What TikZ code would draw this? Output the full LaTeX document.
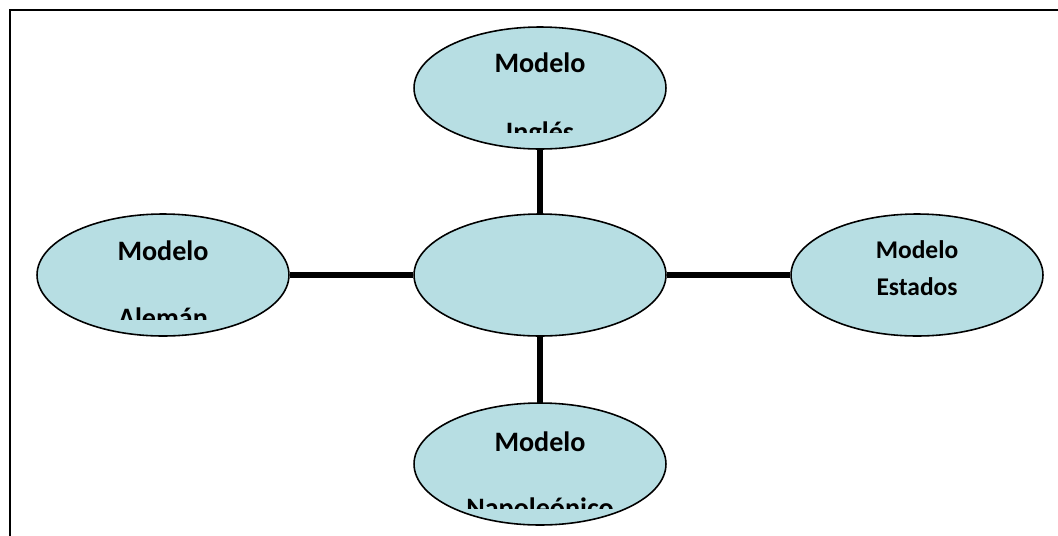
\documentclass[tikz,border=0pt]{standalone}
\usepackage{fontspec}
\setmainfont{Carlito}
\usepackage{tikz}
\usetikzlibrary{positioning,shapes,calc}
\usepackage{xcolor}
\definecolor{modelfill}{RGB}{183,222,227}

\begin{document}
\begin{tikzpicture}[
    x = 0.02cm, y = -0.02cm,
    model/.style={ellipse, draw, line width=0.9pt, fill=modelfill, minimum width=5.04cm, minimum height=2.44cm, inner sep=0pt},
    word/.style={font=\bfseries\fontsize{16}{19}\selectfont, anchor=base, inner sep=0pt},
    small word/.style={font=\bfseries\fontsize{14.5}{17}\selectfont, anchor=base, inner sep=0pt},
    link/.style={line width=3.3pt}
]
    \useasboundingbox (0,0) rectangle (1058,535);
    \draw[line width=1.3pt] (1060,10) -- (10,10) -- (10,537);

    \node[model] (centro) at (540,275) {};
    \node[model] (ingles) at (540,88) {};
    \node[model] (aleman) at (163,275) {};
    \node[model] (estados) at (917,275) {};
    \node[model] (napoleon) at (540,464) {};

    \draw[link] (centro) -- (ingles);
    \draw[link] (centro) -- (aleman);
    \draw[link] (centro) -- (estados);
    \draw[link] (centro) -- (napoleon);

    % texts cut off by their box
    \begin{scope}
        \clip (ingles.north west) rectangle ($(ingles.east)+(0,44)$);
        \node[word] (ingles a) at ($(ingles.center)+(0,-16)$) {Modelo};
        \node[word] (ingles b) at ($(ingles.center)+(0,53)$) {Inglés};
    \end{scope}
    \begin{scope}
        \clip (aleman.north west) rectangle ($(aleman.east)+(0,44)$);
        \node[word] (aleman a) at ($(aleman.center)+(0,-15)$) {Modelo};
        \node[word] (aleman b) at ($(aleman.center)+(0,52)$) {Alemán};
    \end{scope}
    \begin{scope}
        \clip (napoleon.north west) rectangle ($(napoleon.east)+(0,44)$);
        \node[word] (napoleon a) at ($(napoleon.center)+(0,-13)$) {Modelo};
        \node[word] (napoleon b) at ($(napoleon.center)+(0,53)$) {Napoleónico};
    \end{scope}

    \node[small word] (estados a) at ($(estados.center)+(0,-17)$) {Modelo};
    \node[small word] (estados b) at ($(estados.center)+(0,20)$) {Estados};
\end{tikzpicture}
\end{document}
